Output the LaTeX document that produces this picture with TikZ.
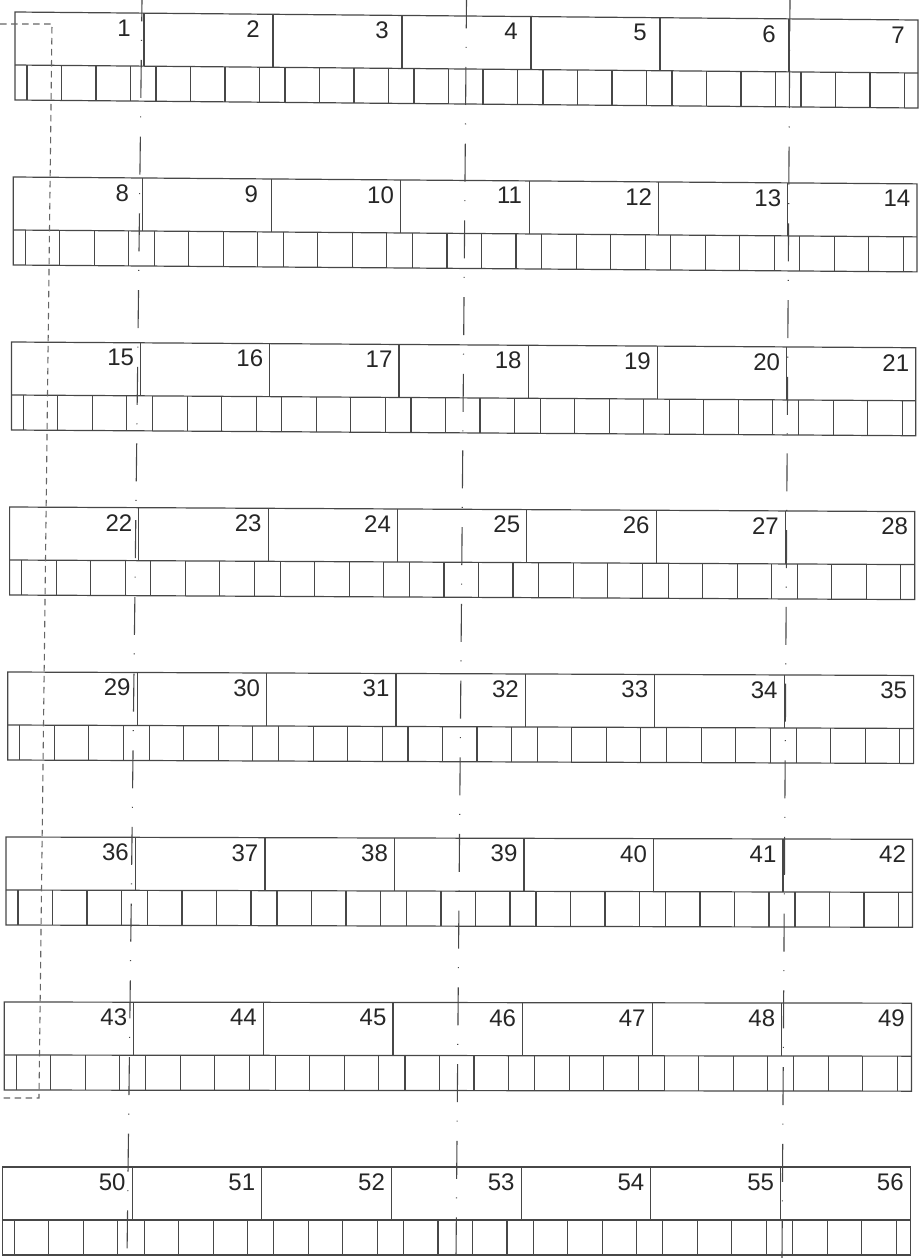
\documentclass[tikz,border=0pt]{standalone}
\usepackage{fontspec}
\setmainfont{Liberation Sans}
\definecolor{inkgray}{HTML}{474747}
\definecolor{hidgray}{HTML}{666666}

\begin{document}
\begin{tikzpicture}[
    x=1pt, y=-1pt,
    frame/.style={draw=inkgray, line width=1.2pt},
    seg/.style={draw=inkgray, line width=1.1pt},
    num/.style={font=\fontsize{24}{24}\selectfont, text=black!85, anchor=north, inner sep=0pt},
    axis/.style={draw=inkgray, line width=1.1pt, dash pattern=on 38pt off 18.5pt on 1pt off 19.2pt},
    hidden/.style={draw=hidgray, line width=1.1pt, dash pattern=on 6.5pt off 4.5pt}
]
\useasboundingbox (0,0) rectangle (921,1258);

% eight strips: numbered upper band, small cells below
\foreach \r in {0,...,7} {
  \pgfmathsetmacro{\lx}{15-1.8*\r}
  \pgfmathsetmacro{\ty}{12+165*\r}
  \pgfmathsetmacro{\cw}{129+0.1*\r}
  \pgfmathsetmacro{\sl}{-8*(1-\r/7)/900}
  \begin{scope}[shift={(\lx,\ty)}, yslant=\sl]
    \draw[frame] (0,0) rectangle (7*\cw,88);
    \draw[frame] (0,53) -- (7*\cw,53);
    \foreach \c in {1,...,6}
      \draw[seg] (\c*\cw,0) -- (\c*\cw,53);
    \foreach \c in {0,...,6} {
      \foreach \j in {0,...,3}
        \draw[seg] (\c*\cw+12+34.5*\j,53) -- (\c*\cw+12+34.5*\j,88);
    }
    \foreach \c in {1,...,7} {
      \pgfmathtruncatemacro{\k}{7*\r+\c}
      \node[num] (n\k) at (\c*\cw-20,6.5) {\k};
    }
  \end{scope}
}

% centre lines
\coordinate (axA) at (142,0);   \coordinate (axAend) at (127,1258);
\coordinate (axB) at (466.5,0); \coordinate (axBend) at (456,1258);
\coordinate (axC) at (790,0);   \coordinate (axCend) at (782,1258);
\draw[axis, dash phase=16.7pt] (axA) -- (axAend);
\draw[axis, dash phase=9.7pt] (axB) -- (axBend);
\draw[axis, dash phase=6.7pt] (axC) -- (axCend);

% hidden outline on the left
\coordinate (hidA) at (0,24);
\coordinate (hidB) at (52,24);
\coordinate (hidC) at (39,1098);
\coordinate (hidD) at (0,1098);
\draw[hidden] (hidA) -- (hidB) -- (hidC) -- (hidD);
\end{tikzpicture}
\end{document}
